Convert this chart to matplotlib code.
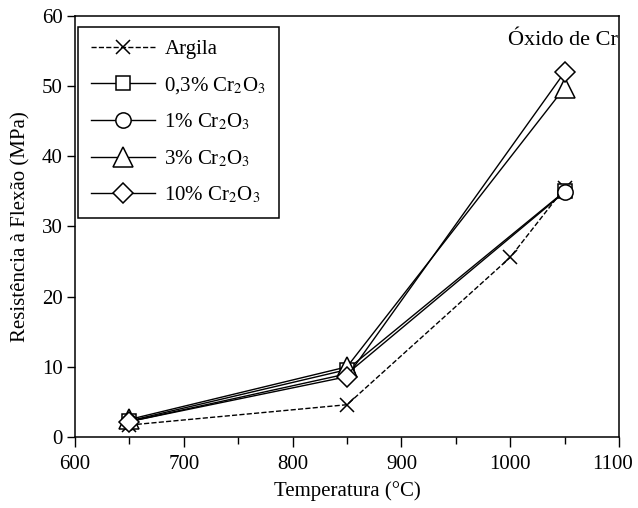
import matplotlib
matplotlib.use('Agg')
import matplotlib.pyplot as plt
from matplotlib.ticker import MultipleLocator
from matplotlib.transforms import ScaledTranslation

plt.rcParams['font.family'] = ['Liberation Serif', 'DejaVu Serif']
plt.rcParams['mathtext.fontset'] = 'stix'

temp = [650, 850, 1000, 1050]
argila = [1.7, 4.6, 25.6, 35.5]

temp_cr = [650, 850, 1050]
cr_03 = [2.3, 9.6, 35.0]
cr_1 = [2.2, 9.0, 34.9]
cr_3 = [2.5, 10.0, 49.8]
cr_10 = [2.2, 8.6, 52.0]

labels = ["Argila", "0,3% Cr$_2$O$_3$", "1% Cr$_2$O$_3$",
          "3% Cr$_2$O$_3$", "10% Cr$_2$O$_3$"]

fig = plt.figure(figsize=(6.38, 5.08), dpi=100)
ax = fig.add_axes([0.1176, 0.1398, 0.8527, 0.8287])

mk = dict(color='black', markerfacecolor='white', markeredgecolor='black',
          linewidth=1.0, markeredgewidth=1.1)
ax.plot(temp, argila, '--', marker='x', label=labels[0], color='black',
        markersize=10, linewidth=1.0, markeredgewidth=1.1)
ax.plot(temp_cr, cr_03, '-', marker='s', markersize=9.5, label=labels[1], **mk)
ax.plot(temp_cr, cr_1, '-', marker='o', markersize=11, label=labels[2], **mk)
ax.plot(temp_cr, cr_3, '-', marker='^', markersize=14, label=labels[3], **mk)
ax.plot(temp_cr, cr_10, '-', marker='D', markersize=10, label=labels[4], **mk)

ax.set_xlim(600, 1100)
ax.set_ylim(0, 60)
ax.xaxis.set_major_locator(MultipleLocator(100))
ax.xaxis.set_minor_locator(MultipleLocator(50))
ax.yaxis.set_major_locator(MultipleLocator(10))
ax.tick_params(axis='both', which='major', direction='out', length=7,
               width=1, labelsize=15, top=False, right=False)
ax.tick_params(axis='x', which='major', pad=6)
ax.tick_params(axis='y', which='major', length=6, pad=3)
ax.tick_params(axis='x', which='minor', direction='out', length=5, width=1)
for s in ax.spines.values():
    s.set_linewidth(1.1)

ax.set_xlabel("Temperatura (°C)", fontsize=15, labelpad=5)
ax.set_ylabel("Resistência à Flexão (MPa)", fontsize=15, labelpad=8)

ax.text(0.997, 0.965, "Óxido de Cr", transform=ax.transAxes,
        ha='right', va='top', fontsize=16)

leg = ax.legend(loc='upper left', bbox_to_anchor=(0.0055, 0.974),
                borderaxespad=0, fontsize=15, frameon=True, fancybox=False,
                edgecolor='black', framealpha=1, handlelength=3.1,
                labelspacing=0.76, borderpad=0.6, handletextpad=0.45)
leg.get_frame().set_linewidth(1.1)

# the 1100 label sits a little left of its tick at the page edge
fig.canvas.draw()
for t in ax.get_xticklabels():
    if t.get_text() == '1100':
        t.set_transform(t.get_transform()
                        + ScaledTranslation(-7 / 100, 0, fig.dpi_scale_trans))

fig.savefig("out.png", dpi=100)
